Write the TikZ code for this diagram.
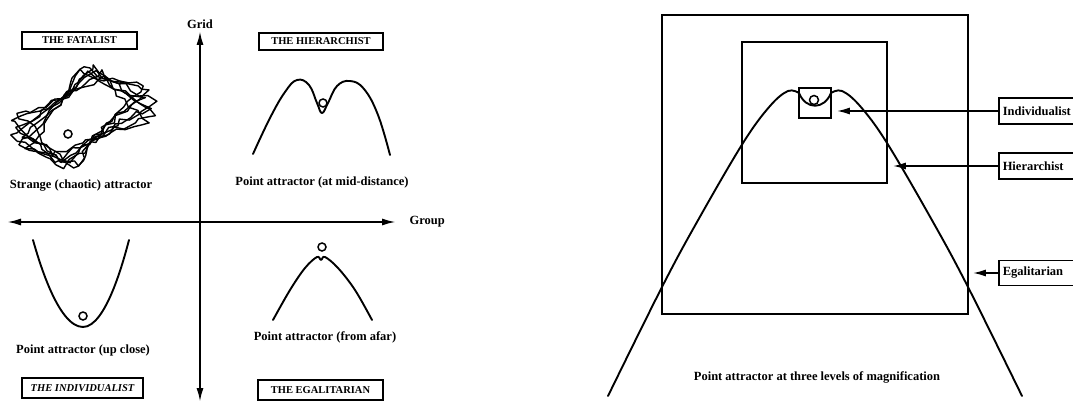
\documentclass[tikz,border=0pt]{standalone}
\usepackage{fontspec}
\setmainfont{Liberation Serif}
\usetikzlibrary{positioning, arrows.meta, decorations.pathmorphing, calc}
\tikzset{
  every node/.style={font=\bfseries\fontsize{12.5}{14}\selectfont},
  arr/.style={-{Latex[length=13pt,width=7pt]}, line width=1.6pt},
  axis/.style={{Latex[length=14pt,width=7pt]}-{Latex[length=14pt,width=7pt]}, line width=2pt},
  curve/.style={line width=1.9pt, line cap=round, line join=round},
  ball/.style={draw, circle, line width=1.5pt, minimum size=8pt, inner sep=0pt},
  tag/.style={draw, line width=1.5pt, inner sep=0pt, font=\bfseries\fontsize{10.5}{12}\selectfont},
  box/.style={draw, line width=1.5pt, inner sep=4pt, minimum height=26pt, text width=82pt,
    align=left, font=\bfseries\fontsize{12.5}{14}\selectfont},
  sq/.style={draw, line width=1.8pt, inner sep=0pt},
  chaos/.style={line width=1.4pt, line join=round, decorate,
    decoration={random steps, segment length=8pt, amplitude=3.2pt}},
}

\begin{document}
\begin{tikzpicture}[x=1pt, y=-1pt]
  \useasboundingbox (0,0) rectangle (1073,409);
  % grid / group axes
  \coordinate (gtop) at (200,31);
  \coordinate (gbot) at (200,402);
  \coordinate (gl) at (7,222);
  \coordinate (gr) at (396,222);
  \draw[axis] (gbot) -- (gtop);
  \draw[axis] (gl) -- (gr);
  \node[above=-1pt of gtop] (grid) {Grid};
  \node[right=10pt of gr] (group) {Group};
  % the four cultures
  \node[tag, minimum width=115pt, minimum height=17pt] (fat) at (79.5,40.5) {THE FATALIST};
  \node[tag, minimum width=124pt, minimum height=17pt] (hier) at (321,41.5) {THE HIERARCHIST};
  \node[tag, minimum width=121pt, minimum height=20pt, font=\bfseries\itshape\fontsize{10.5}{12}\selectfont]
    (indiv) at (82.5,388) {THE INDIVIDUALIST};
  \node[tag, minimum width=125pt, minimum height=20pt] (egal) at (320.5,390) {THE EGALITARIAN};
  % strange attractor
  \pgfmathsetseed{5}
  \foreach \a/\s in {-12/0.92, -6/1.0, 0/0.95, 5/1.04, 10/0.9, 15/0.98, 20/0.93} {
    \draw[chaos, rotate around={\a:(82,116)}, scale around={\s:(82,116)}]
      (12,128) to[bend right=8] (97,68) to[bend right=8] (155,108)
      to[bend right=8] (60,165) to[bend right=8] cycle;
  }
  \node[ball] (bfat) at (68,134) {};
  \node (strange) at (81,186) {Strange (chaotic) attractor};
  % mid-distance
  \draw[curve] plot[smooth, tension=0.7] coordinates {(253,154) (270,118) (285,92) (297,80)
    (309,85) (317,103) (322,113) (328,103) (337,86) (350,81) (364,89) (378,115) (390,155)};
  \node[ball] (bhier) at (323,103) {};
  \node (mid) at (322,182) {Point attractor (at mid-distance)};
  % up close
  \draw[curve] (33,240) parabola bend (83,327) (129,240);
  \node[ball] (bindiv) at (83,316) {};
  \node (close) at (83,350) {Point attractor (up close)};
  % from afar
  \draw[curve] plot[smooth, tension=0.6] coordinates {(273,320) (290,290) (305,268) (317,257)
    (321,260) (325,257) (338,268) (355,290) (372,320)};
  \node[ball] (begal) at (322,247) {};
  \node (afar) at (325,337) {Point attractor (from afar)};

  % three levels of magnification
  \node[sq, minimum width=306pt, minimum height=299pt] (outer) at (815,164.5) {};
  \node[sq, minimum width=145pt, minimum height=141pt] (inner) at (814.5,112.5) {};
  \node[sq, minimum width=32pt, minimum height=30pt] (small) at (815,103) {};
  \draw[curve] plot[smooth, tension=0.6] coordinates {(608,396) (662,287) (697,222) (743,143)
    (770,106) (788,91) (799,93)};
  \draw[curve] (799,93) .. controls (806,110) and (824,110) .. (831,93);
  \draw[curve] plot[smooth, tension=0.6] coordinates {(831,93) (842,91) (860,106) (887,143)
    (933,222) (968,287) (1022,396)};
  \node[ball, minimum size=9pt] (bmag) at (814,100) {};
  \node (magn) at (817,377) {Point attractor at three levels of magnification};
  % labels
  \node[box, anchor=west] (lind) at (998,111) {Individualist};
  \node[box, anchor=west] (lhier) at (998,166) {Hierarchist};
  \node[box, anchor=west, minimum height=25pt] (legal) at (998,273) {Egalitarian};
  \draw[arr, shorten >=5pt] (lind.west) -- (lind.west -| small.east);
  \draw[arr, shorten >=5pt] (lhier.west) -- (lhier.west -| inner.east);
  \draw[arr, shorten >=4pt] (legal.west) -- (legal.west -| outer.east);
\end{tikzpicture}
\end{document}
